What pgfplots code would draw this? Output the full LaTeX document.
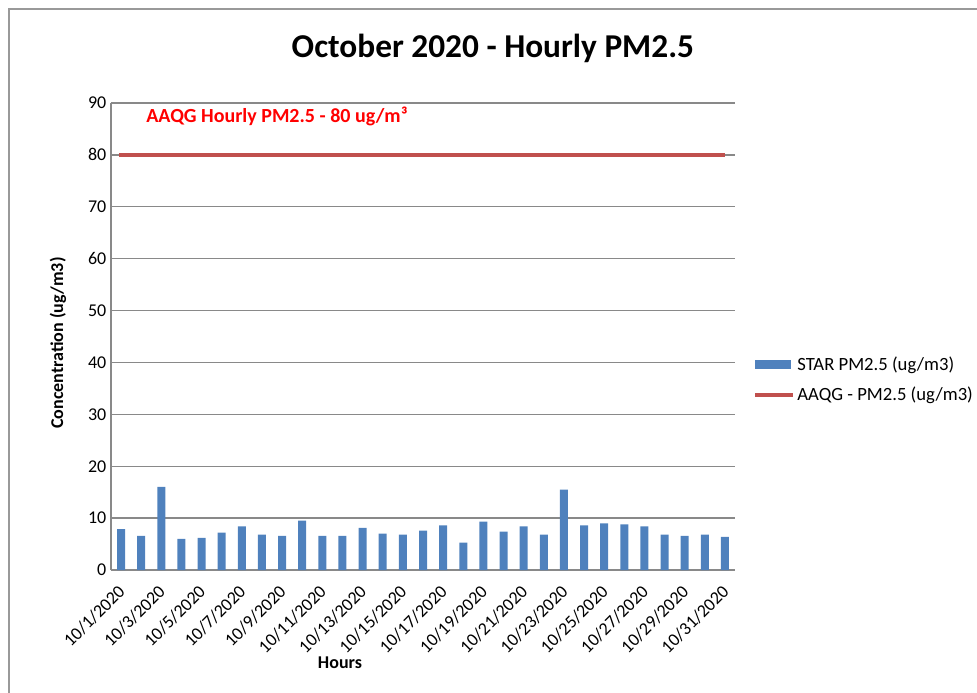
\documentclass[border=0pt]{standalone}
\usepackage{fontspec}
\setmainfont{Carlito}
\usepackage{pgfplots}
\pgfplotsset{compat=1.18}
\definecolor{barblue}{HTML}{4F81BD}
\definecolor{lred}{HTML}{C0504D}
\definecolor{gridgray}{HTML}{898989}

\begin{document}
\begin{tikzpicture}
\useasboundingbox (-83.25pt,-91.5pt) rectangle (649.5pt,427.5pt);
\draw[gray!80, line width=1pt] (-76.5pt,-120pt) -- (-76.5pt,420.75pt) -- (700pt,420.75pt);
\begin{axis}[
  scale only axis, width=468pt, height=350.25pt,
  xmin=-0.5, xmax=30.5, ymin=0, ymax=90,
  ytick={0,10,...,90},
  xtick={0,2,...,30},
  xticklabels={10/1/2020,10/3/2020,10/5/2020,10/7/2020,10/9/2020,10/11/2020,10/13/2020,10/15/2020,10/17/2020,10/19/2020,10/21/2020,10/23/2020,10/25/2020,10/27/2020,10/29/2020,10/31/2020},
  axis x line*=bottom, axis y line*=left,
  axis line style={gridgray, line width=1pt},
  major tick length=0pt,
  ymajorgrids, grid style={gridgray, line width=1pt},
  /pgf/number format/assume math mode=true,
  tick label style={font=\fontsize{13.5}{15}\selectfont},
  x tick label style={yshift=-11.5pt, xshift=3pt, rotate=45, anchor=east},
  title={October 2020 - Hourly PM2.5},
  title style={at={(axis description cs:0.612,1.1)}, anchor=center, font=\bfseries\fontsize{25}{29}\selectfont},
  ylabel={Concentration (ug/m3)},
  ylabel style={at={(axis description cs:-0.085,0.486)}, anchor=center, font=\bfseries\fontsize{13.5}{15}\selectfont},
  xlabel={Hours},
  xlabel style={at={(axis description cs:0.367,-0.199)}, anchor=center, font=\bfseries\fontsize{13.5}{15}\selectfont},
  legend style={draw=none, fill=none, at={(1.029,0.407)}, anchor=west,
                font=\fontsize{14}{16}\selectfont, row sep=7pt, inner sep=0pt,
                /tikz/every even column/.append style={column sep=0pt}},
  legend cell align=left,
]
\addplot[ybar, bar width=6pt, fill=barblue, draw=none,
  legend image code/.code={\fill[barblue] (0pt,-3.5pt) rectangle (27pt,3.5pt);}]
  coordinates {(0,7.9)(1,6.6)(2,16.0)(3,6.0)(4,6.2)(5,7.2)(6,8.4)(7,6.8)(8,6.6)(9,9.5)
  (10,6.6)(11,6.6)(12,8.1)(13,7.0)(14,6.8)(15,7.6)(16,8.6)(17,5.3)(18,9.3)(19,7.4)
  (20,8.4)(21,6.8)(22,15.5)(23,8.6)(24,9.0)(25,8.8)(26,8.4)(27,6.8)(28,6.6)(29,6.8)(30,6.4)};
\addplot[lred, line width=3pt,
  legend image code/.code={\draw[lred, line width=3pt] (0pt,0pt) -- (28pt,0pt);}]
  coordinates {(-0.1,80)(30,80)};
\node[anchor=west, text=red, inner sep=0pt, font=\bfseries\fontsize{15}{17}\selectfont]
  at (axis cs:1.24,87.5) {AAQG Hourly PM2.5 - 80 ug/m³};
\legend{STAR PM2.5 (ug/m3), AAQG - PM2.5 (ug/m3)}
\end{axis}
\end{tikzpicture}
\end{document}
